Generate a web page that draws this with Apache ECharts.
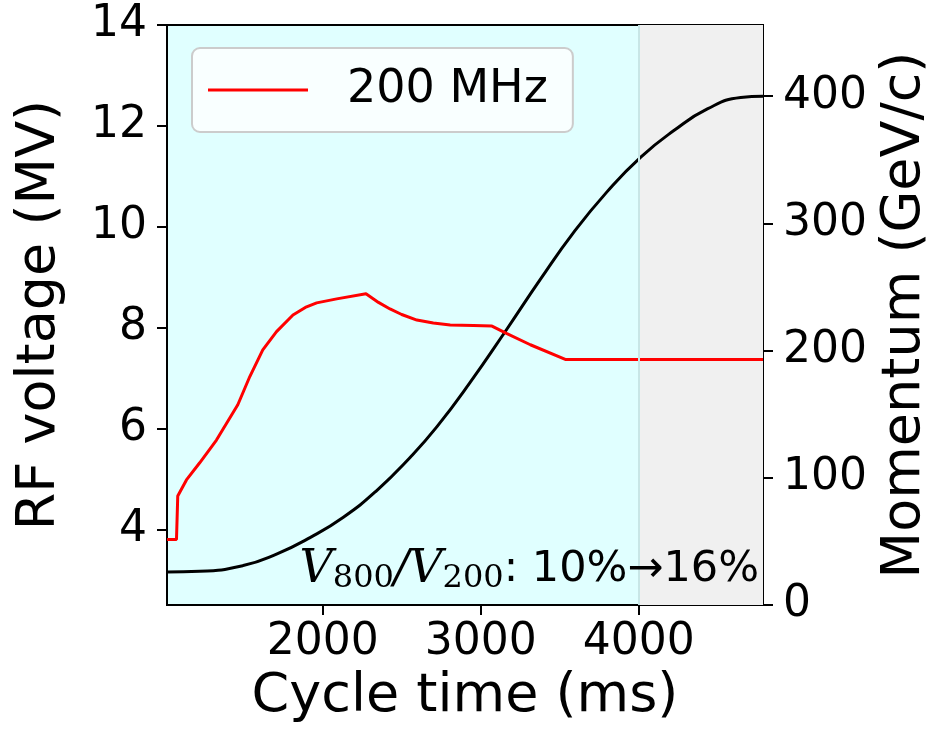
<!DOCTYPE html>
<html>
<head>
<meta charset="utf-8">
<script src="https://cdn.jsdelivr.net/npm/echarts@6/dist/echarts.min.js"></script>
<style>html,body{margin:0;padding:0;background:#fff;}#c{width:928px;height:736px;}</style>
</head>
<body>
<div id="c"></div>
<script>
// ---- data ----
const timeV = [1015, 1075, 1083, 1138, 1222, 1328, 1463, 1539, 1621, 1708, 1812, 1890, 1962, 2089, 2274, 2353, 2426, 2500, 2596, 2700, 2807, 2954, 3071, 3166, 3314, 3535, 4786];
const voltage200 = [3.80, 3.80, 4.66, 4.98, 5.32, 5.77, 6.47, 7.03, 7.56, 7.92, 8.25, 8.40, 8.49, 8.57, 8.67, 8.50, 8.37, 8.26, 8.15, 8.09, 8.05, 8.04, 8.03, 7.88, 7.66, 7.37, 7.37];
const timeP = [1015, 1222, 1497, 1708, 1920, 2131, 2342, 2553, 2722, 2933, 3166, 3377, 3588, 3800, 4011, 4222, 4434, 4645, 4786];
const momentum = [26, 26.5, 31, 40, 53, 69, 90, 116, 140, 175, 217, 256, 293, 325, 352, 373, 390, 399, 400];
const xTicks = [2000, 3000, 4000];
const vTicks = [4, 6, 8, 10, 12, 14];
const pTicks = [0, 100, 200, 300, 400];
const xRange = [1015, 4786];
const vRange = [2.5, 14];
const pRange = [0, 456];
const flatTopStart = 4000;
const legendName = '200 MHz';

const chart = echarts.init(document.getElementById('c'));
const F = 'DejaVu Sans';
const tickFont = 44;
const titleFont = 54;
const axisCommon = {
  axisLine: {show: true, lineStyle: {color: '#000', width: 2}},
  axisTick: {show: true, inside: false, length: 10, lineStyle: {color: '#000', width: 2}},
  splitLine: {show: false},
  nameTextStyle: {fontFamily: F, fontSize: titleFont, color: '#000'},
  nameLocation: 'middle'
};
const plain = v => String(v);
chart.setOption({
  animation: false,
  textStyle: {fontFamily: F},
  grid: {left: 167, right: 165, top: 25, bottom: 131, show: true, backgroundColor: '#e0ffff', borderColor: '#000', borderWidth: 2, containLabel: false, outerBoundsMode: 'none'},
  legend: {
    data: [{name: legendName, icon: 'path://M0,0 L100,0 L100,3 L0,3 Z'}],
    left: 192, top: 48,
    padding: [19, 25, 19, 16],
    itemWidth: 100, itemHeight: 3,
    backgroundColor: 'rgba(255,255,255,0.8)',
    borderColor: '#cccccc', borderWidth: 2, borderRadius: 8,
    formatter: '{g|}{t|{name}}',
    itemStyle: {color: '#ff0000'},
    textStyle: {
      rich: {
        g: {width: 34},
        t: {fontFamily: F, fontSize: 46, lineHeight: 46, color: '#000'}
      }
    }
  },
  xAxis: [{
    ...axisCommon,
    type: 'value', min: xRange[0], max: xRange[1],
    name: 'Cycle time (ms)', nameGap: 65,
    axisLabel: {fontFamily: F, fontSize: tickFont, color: '#000', margin: 16, customValues: xTicks, formatter: plain},
    axisTick: {...axisCommon.axisTick, customValues: xTicks}
  }, {
    type: 'value', position: 'top', min: xRange[0], max: xRange[1],
    axisLine: {show: true, lineStyle: {color: '#000', width: 2}},
    axisTick: {show: false}, axisLabel: {show: false}, splitLine: {show: false}
  }],
  yAxis: [{
    ...axisCommon,
    type: 'value', min: vRange[0], max: vRange[1],
    name: 'RF voltage (MV)', nameGap: 100, nameRotate: 90,
    axisLabel: {fontFamily: F, fontSize: tickFont, color: '#000', margin: 20, customValues: vTicks, formatter: plain},
    axisTick: {...axisCommon.axisTick, customValues: vTicks}
  }, {
    ...axisCommon,
    type: 'value', position: 'right', min: pRange[0], max: pRange[1],
    name: 'Momentum (GeV/c)', nameGap: 110, nameRotate: 90,
    axisLabel: {fontFamily: F, fontSize: tickFont, color: '#000', margin: 20, customValues: pTicks, formatter: plain},
    axisTick: {...axisCommon.axisTick, customValues: pTicks}
  }],
  series: [{
    type: 'line', name: 'bg', z: 0, data: [], silent: true,
    markArea: {
      silent: true,
      itemStyle: {color: '#f0f0f0'},
      data: [[{xAxis: flatTopStart}, {xAxis: xRange[1]}]]
    },
    markLine: {
      silent: true, symbol: 'none', label: {show: false},
      lineStyle: {color: '#c8e6e6', width: 2, type: 'solid'},
      data: [{xAxis: flatTopStart}]
    }
  }, {
    type: 'line', name: 'momentum', yAxisIndex: 1, z: 3,
    data: timeP.map((t, i) => [t, momentum[i]]),
    symbol: 'none', smooth: 0.5,
    lineStyle: {color: '#000', width: 3}, itemStyle: {color: '#000'}
  }, {
    type: 'line', name: legendName, yAxisIndex: 0, z: 4,
    data: timeV.map((t, i) => [t, voltage200[i]]),
    symbol: 'none',
    lineStyle: {color: '#ff0000', width: 3}, itemStyle: {color: '#ff0000'}
  }],
  graphic: [{
    type: 'text', z: 10,
    style: {
      x: 759, y: 595, align: 'right', verticalAlign: 'bottom',
      text: '{v|V}{s|800}{v|/V}{s|200}{t|: 10%→16%}',
      rich: {
        v: {fontFamily: 'DejaVu Serif', fontStyle: 'italic', fontSize: 46, lineHeight: 50, fill: '#000', color: '#000'},
        s: {fontFamily: 'DejaVu Serif', fontSize: 32, lineHeight: 26, verticalAlign: 'bottom', fill: '#000', color: '#000'},
        t: {fontFamily: F, fontSize: 43, lineHeight: 50, fill: '#000', color: '#000'}
      }
    }
  }]
});
</script>
</body>
</html>
